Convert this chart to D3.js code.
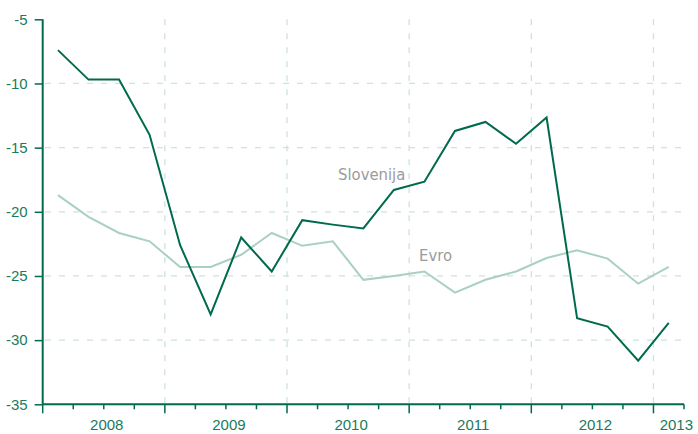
<!DOCTYPE html>
<html>
<head>
<meta charset="utf-8">
<script src="https://cdn.jsdelivr.net/npm/d3@7"></script>
<style>
html,body{margin:0;padding:0;background:#fff;}
svg{display:block;}
</style>
</head>
<body>
<svg id="chart" width="698" height="434"></svg>
<script>
// Quarterly data, 2008 Q1 .. 2013 Q1
const quarters = ["2008Q1","2008Q2","2008Q3","2008Q4","2009Q1","2009Q2","2009Q3","2009Q4",
  "2010Q1","2010Q2","2010Q3","2010Q4","2011Q1","2011Q2","2011Q3","2011Q4",
  "2012Q1","2012Q2","2012Q3","2012Q4","2013Q1"];
const slovenija = [-7.4,-9.7,-9.7,-14.0,-22.6,-28.0,-22.0,-24.65,
  -20.65,-21.0,-21.3,-18.3,-17.65,-13.7,-13.0,-14.7,
  -12.65,-28.3,-28.95,-31.6,-28.65];
const evro = [-18.7,-20.4,-21.65,-22.3,-24.3,-24.3,-23.35,-21.65,
  -22.65,-22.3,-25.3,-25.0,-24.65,-26.3,-25.3,-24.65,
  -23.6,-23.0,-23.65,-25.6,-24.3];
const years = ["2008","2009","2010","2011","2012","2013"];
const yTicks = [-5,-10,-15,-20,-25,-30,-35];
const seriesLabels = ["Slovenija","Evro"];

const svg = d3.select("#chart");
const dark = "#006a4e";
const light = "#a9d0c1";
const grid = "#cde3db";
const tickText = "#1b7a5c";
const tickFont = "'Liberation Sans', Arial, sans-serif";

const x = d3.scaleLinear().domain([0, quarters.length]).range([42.7, 684]);
const y = d3.scaleLinear().domain([-35, -5]).range([404.3, 19.3]);

// horizontal grid
svg.append("g").selectAll("line").data(yTicks.filter(v => v > -35 && v < -5)).join("line")
  .attr("x1", 43).attr("x2", 684)
  .attr("y1", d => y(d)).attr("y2", d => y(d))
  .attr("stroke", grid).attr("stroke-width", 1.3).attr("stroke-dasharray", "6,8")
  .attr("stroke-dashoffset", -2);

// vertical grid at year boundaries
const yearBounds = d3.range(4, quarters.length, 4);
svg.append("g").selectAll("line").data(yearBounds).join("line")
  .attr("x1", d => x(d)).attr("x2", d => x(d))
  .attr("y1", y(-5)).attr("y2", y(-35))
  .attr("stroke", grid).attr("stroke-width", 1.3).attr("stroke-dasharray", "6,8");

// y axis
const yAxis = d3.axisLeft(y).tickValues(yTicks).tickSize(8).tickPadding(7).tickFormat(d => String(d));
const gy = svg.append("g").attr("transform", "translate(42.7,0)").call(yAxis);
gy.select(".domain").attr("stroke", dark).attr("stroke-width", 2).attr("d", `M0,${y(-5)}V${y(-35)}`);
gy.selectAll(".tick line").attr("stroke", dark).attr("stroke-width", 1.5);
gy.selectAll(".tick text").attr("fill", tickText)
  .style("font-family", tickFont).style("font-size", "15px");

// x axis: minor quarter ticks and major year ticks
const gx = svg.append("g").attr("transform", `translate(0,${y(-35)})`);
gx.append("line").attr("x1", x(0)).attr("x2", x(quarters.length)).attr("y1", 0).attr("y2", 0)
  .attr("stroke", dark).attr("stroke-width", 2);
const allTicks = d3.range(0, quarters.length + 1);
gx.selectAll("line.t").data(allTicks).join("line").attr("class", "t")
  .attr("x1", d => x(d)).attr("x2", d => x(d))
  .attr("y1", 0).attr("y2", d => (d % 4 === 0 ? 9 : 5))
  .attr("stroke", dark).attr("stroke-width", 1.5);
gx.selectAll("text").data(years).join("text")
  .attr("x", (d, i) => {
    const start = i * 4;
    const end = Math.min(start + 4, quarters.length);
    return i === years.length - 1 ? 693 : x((start + end) / 2) + 3;
  })
  .attr("y", 25.5)
  .attr("text-anchor", (d, i) => i === years.length - 1 ? "end" : "middle")
  .attr("fill", tickText)
  .style("font-family", tickFont).style("font-size", "15px")
  .text(d => d);

// lines
const line = d3.line().x((d, i) => x(i + 0.5)).y(d => y(d));
svg.append("path").datum(evro).attr("d", line)
  .attr("fill", "none").attr("stroke", light).attr("stroke-width", 2).attr("stroke-linejoin", "miter");
svg.append("path").datum(slovenija).attr("d", line)
  .attr("fill", "none").attr("stroke", dark).attr("stroke-width", 2).attr("stroke-linejoin", "miter");

// series labels
const labelFont = "'Liberation Sans Narrow', 'DejaVu Sans Condensed', sans-serif";
svg.append("text").attr("x", 338).attr("y", 180).text(seriesLabels[0])
  .attr("fill", "#9b9b9b").style("font-family", labelFont).style("font-size", "16.5px");
svg.append("text").attr("x", 419).attr("y", 261).text(seriesLabels[1])
  .attr("fill", "#9b9b9b").style("font-family", labelFont).style("font-size", "16.5px");
</script>
</body>
</html>
